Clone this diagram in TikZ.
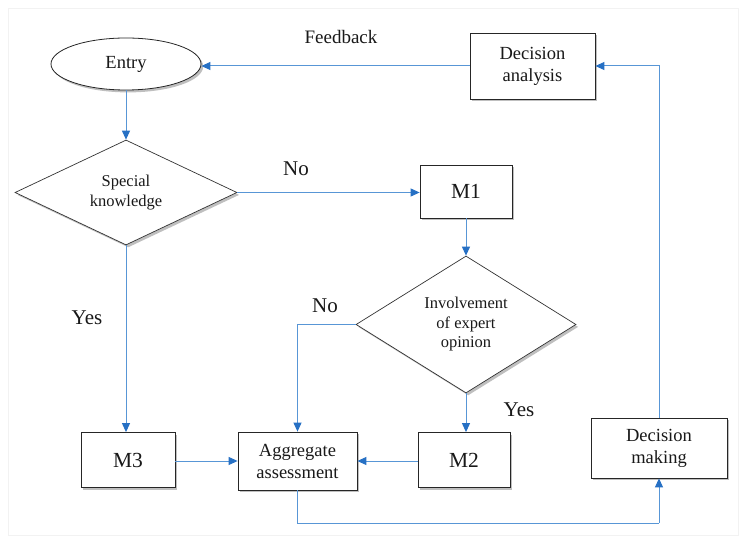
\documentclass[tikz,border=0pt]{standalone}
\usepackage{fontspec}
\setmainfont{Liberation Serif}
\usetikzlibrary{arrows.meta,shapes.geometric,shadows}

\definecolor{lineblue}{RGB}{88,150,214}
\definecolor{tipblue}{RGB}{38,112,196}
\definecolor{inkgray}{RGB}{25,25,25}

\tikzset{
  x=1pt, y=-1pt,
  shade box/.style={drop shadow={shadow xshift=2.2pt, shadow yshift=-2.4pt, fill=black!55, opacity=.45}},
  box/.style={draw=black!85, fill=white, line width=0.8pt, align=center,
    text=inkgray, inner sep=2pt, font=\fontsize{18.5}{22}\selectfont, shade box},
  bigbox/.style={box, font=\fontsize{21.5}{24}\selectfont},
  decision/.style={diamond, draw=black!80, fill=white, line width=0.7pt, align=center,
    text=inkgray, inner sep=0pt, aspect=2, font=\fontsize{16.5}{19.5}\selectfont, shade box},
  flow/.style={draw=lineblue, line width=1pt,
    -{Triangle[length=9pt,width=8pt,color=tipblue]}},
  plainflow/.style={draw=lineblue, line width=1pt},
  tag/.style={text=inkgray, font=\fontsize{21}{24}\selectfont},
}

\begin{document}
\begin{tikzpicture}
  % canvas and faint frame
  \fill[white] (0,0) rectangle (742,537);
  \useasboundingbox (0,0) rectangle (742,537);
  \draw[black!5, line width=0.8pt] (8,8) rectangle (738,535);

  % nodes
  \node[box, ellipse, minimum width=150pt, minimum height=52pt] (entry) at (126,64) {Entry};
  \node[box, minimum width=125pt, minimum height=66pt] (danal) at (532.5,66) {Decision\\analysis};
  \node[decision, minimum width=222pt, minimum height=105pt] (spec) at (126,192.5) {Special\\knowledge};
  \node[bigbox, minimum width=92pt, minimum height=53pt] (m1) at (466,191.5) {M1};
  \node[decision, minimum width=220pt, minimum height=137pt] (inv) at (466,324.5) {Involvement\\of expert\\opinion};
  \node[bigbox, minimum width=94pt, minimum height=55pt] (m3) at (128,460) {M3};
  \node[box, minimum width=119pt, minimum height=58pt] (agg) at (297.5,461) {Aggregate\\assessment};
  \node[bigbox, minimum width=92pt, minimum height=55pt] (m2) at (464,460) {M2};
  \node[box, minimum width=136pt, minimum height=60pt] (dmak) at (659,448) {Decision\\making};

  % labels
  \node[tag, font=\fontsize{19}{22}\selectfont] (fb) at (341,37) {Feedback};
  \node[tag] (no1) at (296,169) {No};
  \node[tag] (yes1) at (87,318) {Yes};
  \node[tag] (no2) at (325,306) {No};
  \node[tag] (yes2) at (519,410) {Yes};

  % connectors
  \coordinate (low) at (0,523);
  \draw[flow] (danal.west) -- (danal.west -| entry.east);
  \draw[flow] (entry.south) -- (spec.north);
  \draw[flow] (spec.east) -- (spec.east -| m1.west);
  \draw[flow] (m1.south) -- (inv.north);
  \draw[flow] (inv.west) -| (agg.north);
  \draw[flow] (inv.south) -- (inv.south |- m2.north);
  \draw[flow] (spec.south) -- (spec.south |- m3.north);
  \draw[flow] (m3.east |- agg.west) -- (agg.west);
  \draw[flow] (m2.west |- agg.east) -- (agg.east);
  \draw[plainflow] (agg.south) |- (low -| dmak.south);
  \draw[flow] (low -| dmak.south) -- (dmak.south);
  \draw[flow] (dmak.north) |- (danal.east);
\end{tikzpicture}
\end{document}
